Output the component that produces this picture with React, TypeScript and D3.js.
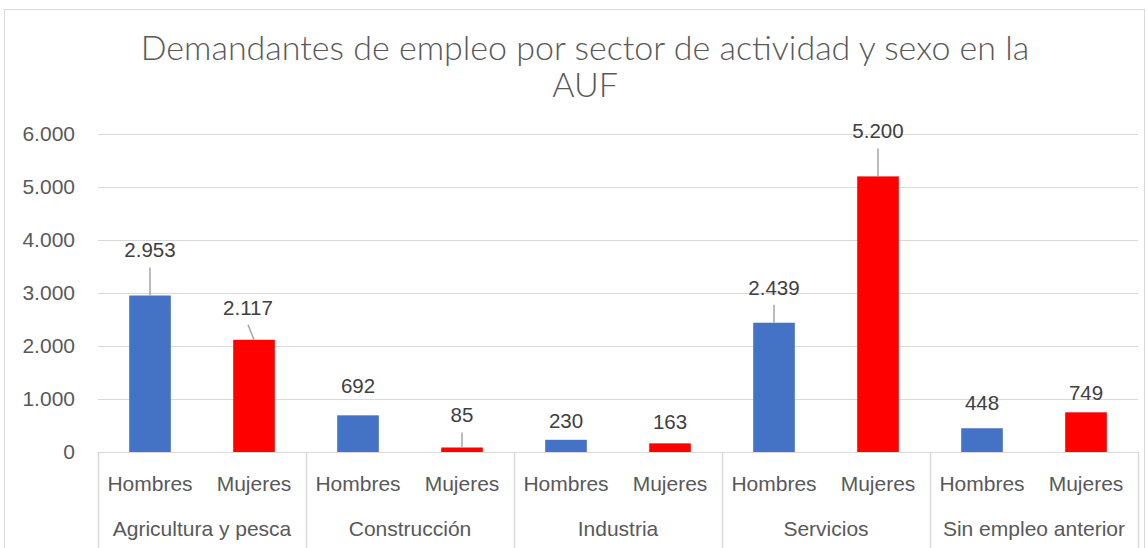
import React from 'react'
import { scaleBand, scaleLinear, format } from 'd3'

const sectors = ['Agricultura y pesca', 'Construcción', 'Industria', 'Servicios', 'Sin empleo anterior']
const sexes = ['Hombres', 'Mujeres']
const hombres = [2953, 692, 230, 2439, 448]
const mujeres = [2117, 85, 163, 5200, 749]
const yTicks = [0, 1000, 2000, 3000, 4000, 5000, 6000]
const titleLines = ['Demandantes de empleo por sector de actividad y sexo en la', 'AUF']

// hand placed labels, as in the original (baseline distance above the bar, x shift, leader line)
const labelLift = [[38, 25], [22, 25], [12, 14], [28, 38], [18, 12]]
const labelShift = [[0, -6], [0, 0], [0, 0], [0, 0], [0, 0]]
const hasLeader = [[true, true], [false, true], [false, false], [true, true], [false, false]]

const colors = { Hombres: '#4472C4', Mujeres: '#FF0000' }
const textColor = '#595959'
const gridColor = '#d9d9d9'

const fmt = (v: number) => format(',')(v).replace(/,/g, '.')

function App() {
  const W = 1148
  const H = 548
  const plot = { left: 98, right: 1138, top: 134, bottom: 452 }

  const x0 = scaleBand().domain(sectors).range([plot.left, plot.right]).padding(0)
  const x1 = scaleBand().domain(sexes).range([0, x0.bandwidth()]).padding(0)
  const y = scaleLinear().domain([0, 6000]).range([plot.bottom, plot.top])

  const barW = x1.bandwidth() * 0.4
  const font = '"Liberation Sans", Arial, sans-serif'

  return (
    <svg width={W} height={H} style={{ position: 'absolute', left: 0, top: 0, background: '#fff' }}>
      <rect x={4.5} y={9.5} width={1140} height={560} fill="#fff" stroke={gridColor} />

      {titleLines.map((t, i) => (
        <text key={t} x={585} y={60 + i * 37} textAnchor="middle" fontFamily='Lato, "Open Sans", sans-serif'
          fontWeight={300} fontSize={34} fill={textColor}>{t}</text>
      ))}

      {yTicks.map(t => (
        <g key={t}>
          <line x1={plot.left} x2={plot.right} y1={y(t) + 0.5} y2={y(t) + 0.5} stroke={gridColor} strokeWidth={1} />
          <text x={75} y={y(t) + 7} textAnchor="end" fontFamily={font} fontSize={21} fill={textColor}>{fmt(t)}</text>
        </g>
      ))}

      {sectors.map((s, si) => (
        <g key={s}>
          {sexes.map((sx, k) => {
            const v = (k === 0 ? hombres : mujeres)[si]
            const cx = (x0(s) as number) + (x1(sx) as number) + x1.bandwidth() / 2
            const top = y(v)
            const base = top - labelLift[si][k]
            return (
              <g key={sx}>
                <rect x={cx - barW / 2} y={top} width={barW} height={plot.bottom - top} fill={colors[sx]} />
                {hasLeader[si][k] && (
                  <line x1={cx + labelShift[si][k]} y1={base + 10} x2={cx} y2={top}
                    stroke="#a6a6a6" strokeWidth={1.5} />
                )}
                <text x={cx + labelShift[si][k]} y={base} textAnchor="middle" fontFamily={font} fontSize={20.5}
                  fill="#404040">{fmt(v)}</text>
                <text x={cx} y={491} textAnchor="middle" fontFamily={font} fontSize={21} fill={textColor}>{sx}</text>
              </g>
            )
          })}
          <text x={(x0(s) as number) + x0.bandwidth() / 2} y={536} textAnchor="middle" fontFamily={font}
            fontSize={21} fill={textColor}>{s}</text>
        </g>
      ))}

      {[...sectors.map(s => x0(s) as number), plot.right].map((xv, i) => (
        <line key={i} x1={xv + 0.5} x2={xv + 0.5} y1={plot.bottom} y2={H} stroke={gridColor} strokeWidth={1.5} />
      ))}
    </svg>
  )
}

export default App
